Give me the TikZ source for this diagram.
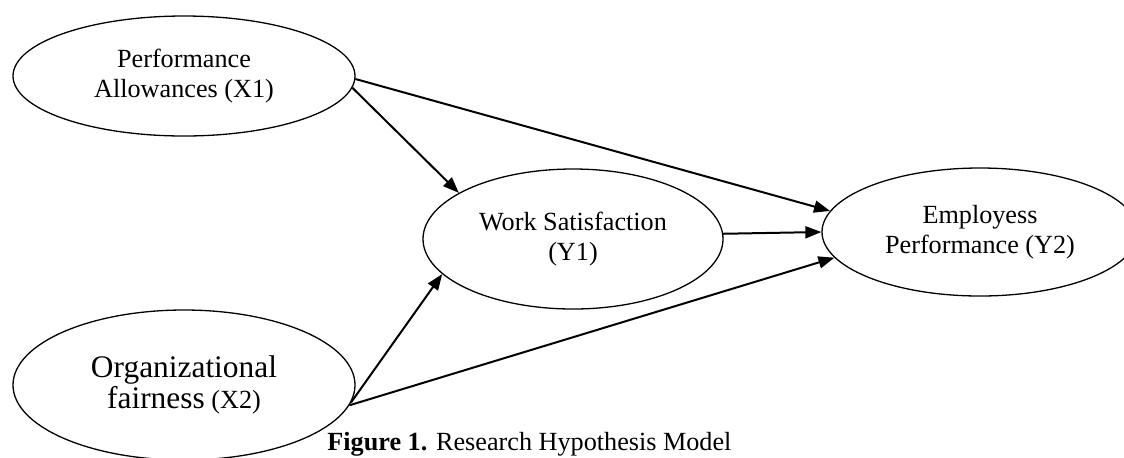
\documentclass[tikz,border=0pt]{standalone}
\usepackage{fontspec}
\setmainfont{Liberation Serif}
\usetikzlibrary{shapes.geometric,arrows.meta}
\tikzset{
  ell/.style={ellipse, draw, line width=0.65pt, inner sep=0pt, align=center,
    font=\fontsize{13.1pt}{15pt}\selectfont},
  conn/.style={line width=1pt, -{Triangle[length=8pt,width=6pt]}},
}
\begin{document}
\begin{tikzpicture}[x=0.5pt,y=-0.5pt]
\clip (0,0) rectangle (1124,457);
\fill[white] (0,0) rectangle (1124,457);
\node[ell, minimum width=171pt, minimum height=60pt] (x1) at (184,76)
  {Performance\\Allowances (X1)};
\node[ell, minimum width=171pt, minimum height=75pt] (x2) at (184,385)
  {{\fontsize{15.7pt}{17.5pt}\selectfont Organizational}\\[0.5pt]{\fontsize{15.7pt}{17.5pt}\selectfont fairness} (X2)};
\node[ell, minimum width=150pt, minimum height=70pt] (y1) at (573,239)
  {Work Satisfaction\\(Y1)};
\node[ell, minimum width=158pt, minimum height=64pt] (y2) at (980,232)
  {Employess\\Performance (Y2)};
\draw[conn] (x1.-1) -- (y2.172.6);
\draw[conn] (x1.-4) -- (y1.158.6);
\draw[conn] (y1.2.2) -- (y2.180.4);
\draw[conn] (x2.-6) -- (y1.195.7);
\draw[conn] (x2.-7) -- (y2.190.4);
\node[anchor=base west, inner sep=0pt, font=\fontsize{13.1pt}{15pt}\selectfont] (cap) at (327,450)
  {\textbf{Figure 1.} Research Hypothesis Model};
\end{tikzpicture}
\end{document}
